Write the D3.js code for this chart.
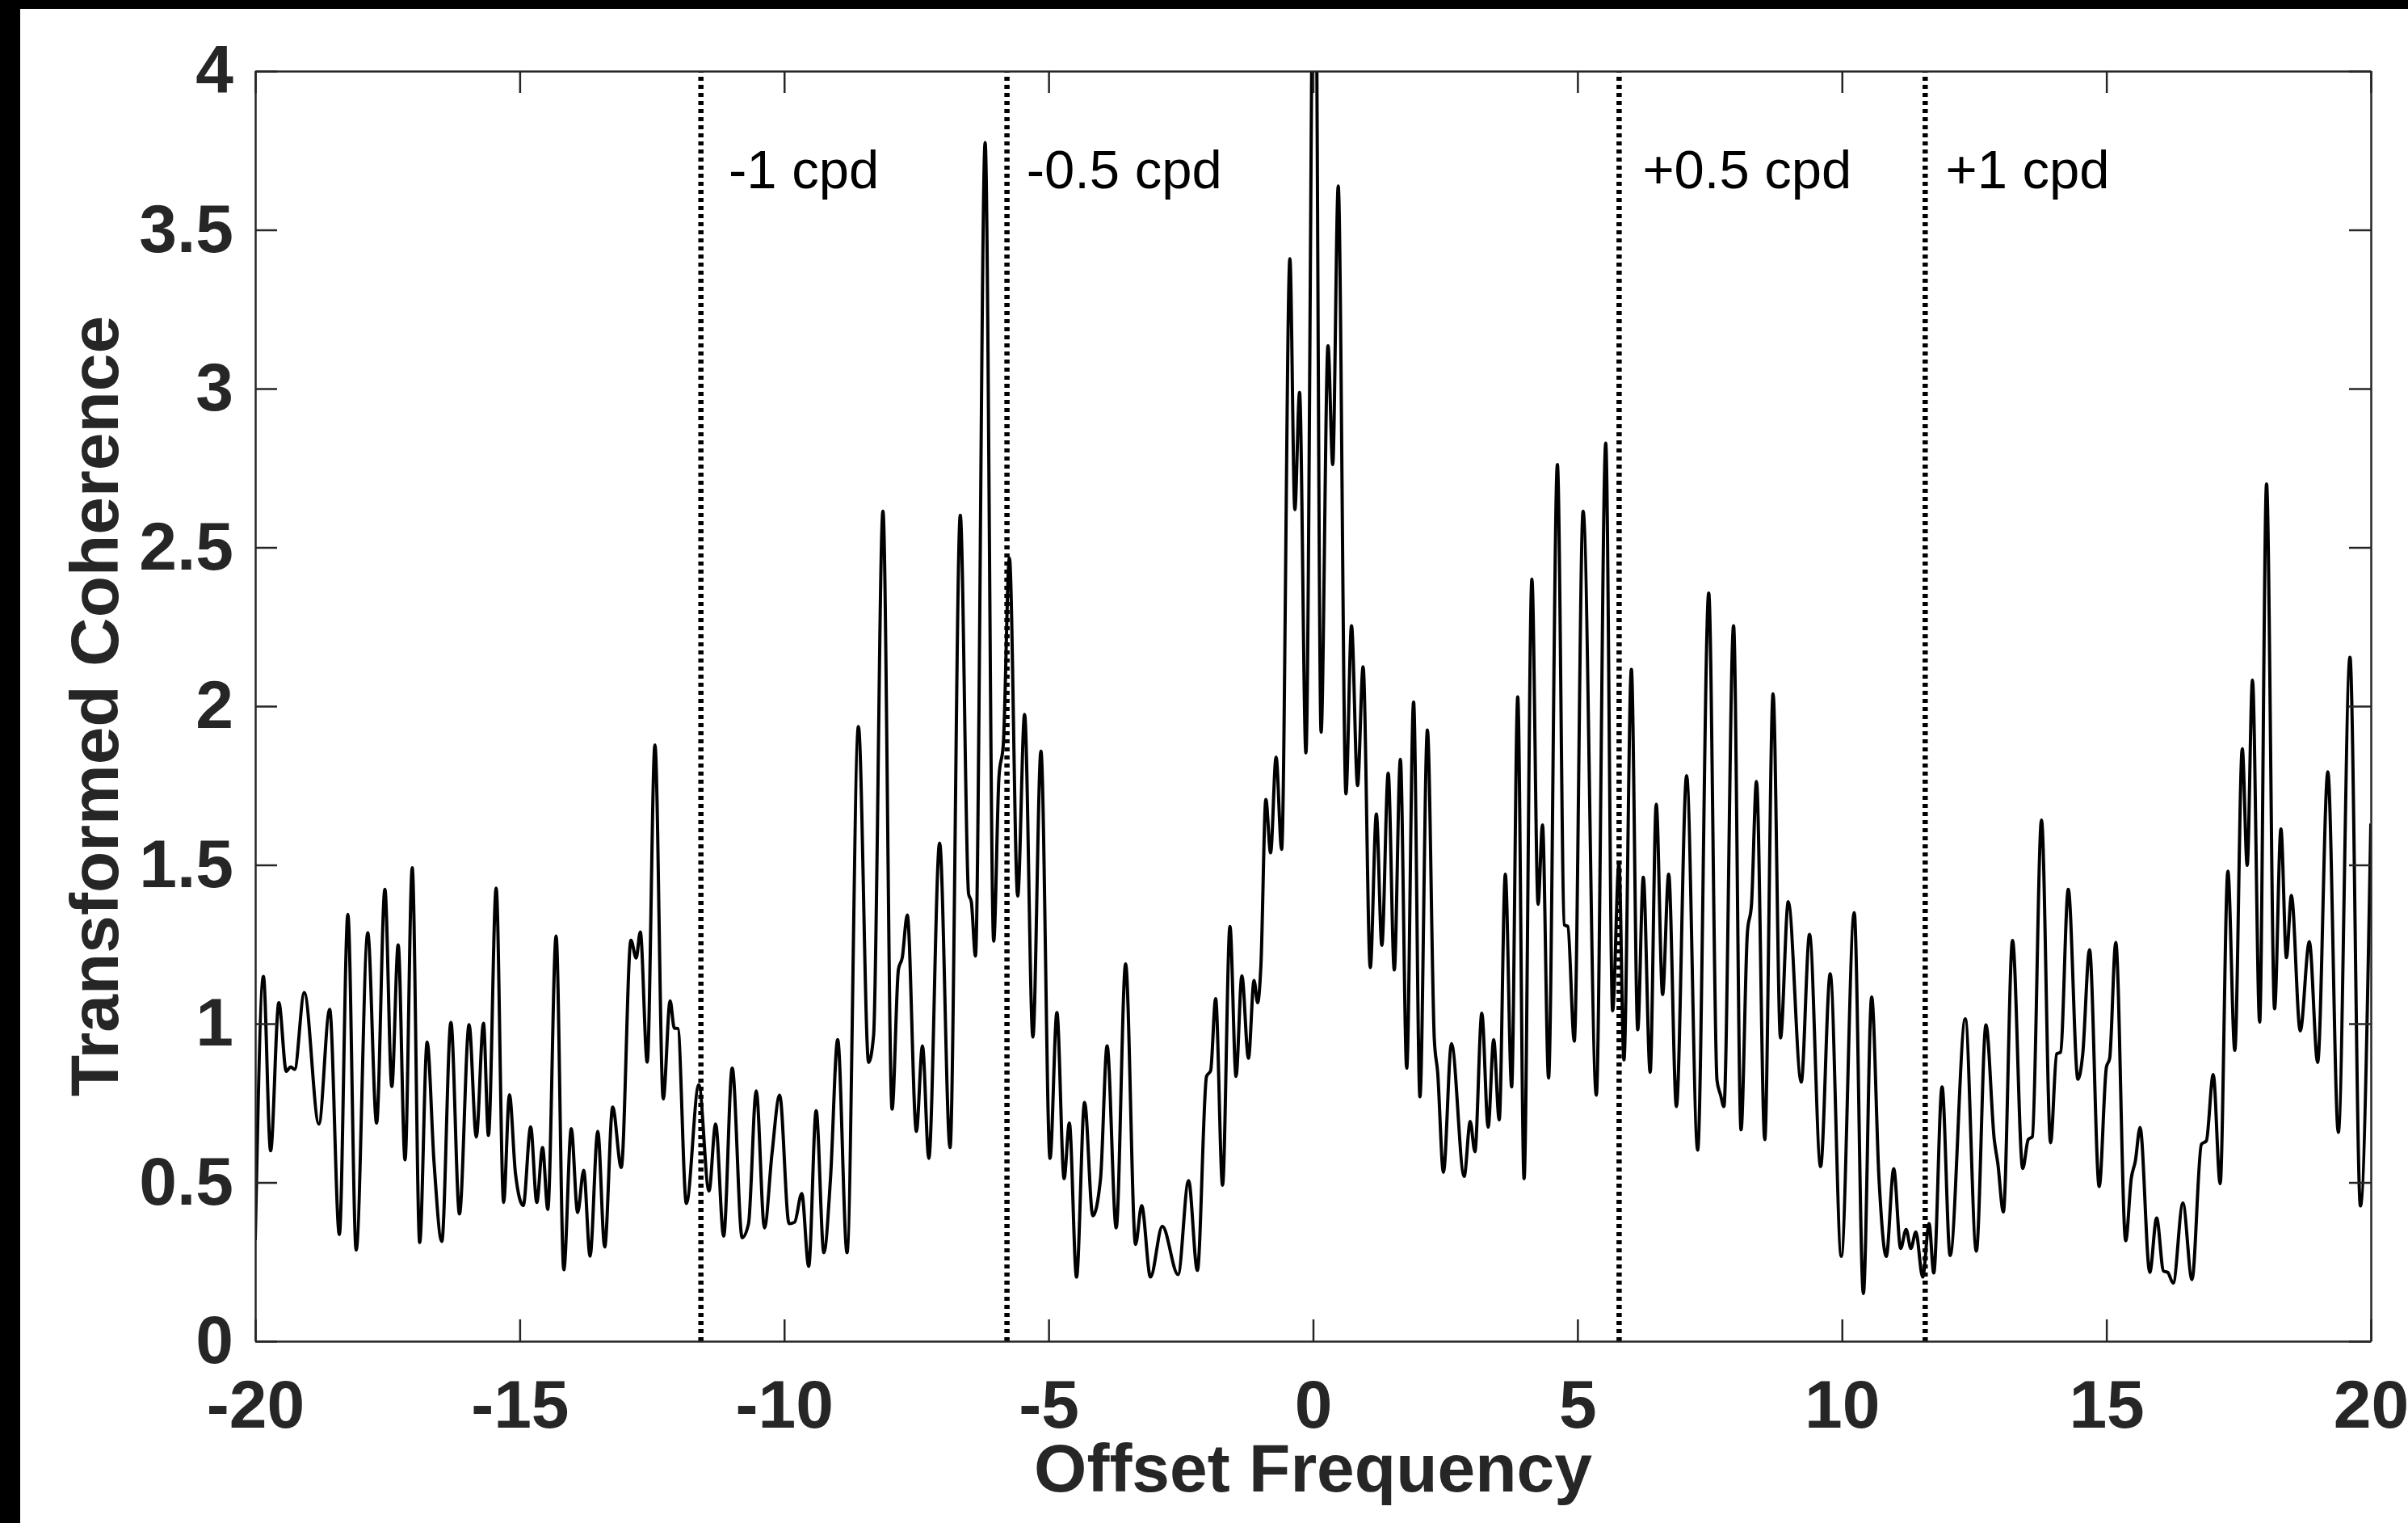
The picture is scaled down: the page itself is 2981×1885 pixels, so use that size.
<!DOCTYPE html>
<meta charset="utf-8">
<title>transformed coherence</title>
<style>
    body { margin: 0; background: #fff; }
    svg { display: block; }
    .axis path, .axis line { stroke: #262626; stroke-width: 2.5; }
    .axis text { font-family: "Liberation Sans", Arial, Helvetica, sans-serif; font-weight: bold; font-size: 84px; fill: #262626; }
</style>
<body>
<script src="https://d3js.org/d3.v7.min.js"></script>
<script>
    var width = 2981;
    var height = 1885;
    var margin = {top: 88, right: 46, bottom: 225, left: 316};

    // offset frequency (x) and transformed coherence (y)
    var freq = [-20.0, -19.846, -19.71, -19.554, -19.413, -19.33, -19.256, -19.073, -18.797, -18.593,
        -18.41, -18.249, -18.092, -17.873, -17.706, -17.549, -17.418, -17.298, -17.168, -17.032,
        -16.891, -16.75, -16.62, -16.473, -16.301, -16.139, -15.957, -15.821, -15.685, -15.591,
        -15.445, -15.304, -15.194, -15.08, -14.933, -14.793, -14.677, -14.568, -14.469, -14.312,
        -14.166, -14.025, -13.905, -13.79, -13.67, -13.524, -13.393, -13.242, -13.08, -12.897,
        -12.798, -12.72, -12.589, -12.443, -12.286, -12.156, -12.077, -12.01,
        -11.849, -11.614, -11.421, -11.296, -11.144, -10.982, -10.794, -10.674, -10.528, -10.372,
        -10.231, -10.085, -9.907, -9.802, -9.667, -9.536, -9.395, -9.249, -9.124, -8.988,
        -8.811, -8.596, -8.403, -8.309, -8.132, -7.959, -7.84, -7.767, -7.672, -7.5,
        -7.385, -7.265, -7.061, -6.863, -6.67, -6.513, -6.461, -6.383, -6.2, -6.038,
        -5.939, -5.855, -5.741, -5.584, -5.454, -5.297, -5.145, -4.973, -4.843, -4.707,
        -4.608, -4.472, -4.32, -4.164, -4.018,
        -3.894, -3.722, -3.544, -3.356, -3.241, -3.074, -2.85, -2.552, -2.354, -2.187,
        -2.014, -1.936, -1.842, -1.711, -1.571, -1.456, -1.346, -1.221, -1.116, -1.048,
        -0.986, -0.892, -0.803, -0.699, -0.594, -0.438, -0.344, -0.255, -0.135, 0.03,
        0.152, 0.283, 0.372, 0.476, 0.622, 0.727, 0.842, 0.946, 1.082, 1.197,
        1.301, 1.421, 1.536, 1.651, 1.771, 1.901, 2.021, 2.162, 2.293, 2.356,
        2.465, 2.617, 2.857, 2.972, 3.06, 3.191, 3.311, 3.415, 3.52, 3.635,
        3.755, 3.87, 3.99,
        4.138, 4.255, 4.338, 4.453, 4.62, 4.751, 4.818, 4.939, 5.106, 5.356,
        5.534, 5.664, 5.784, 5.878, 6.019, 6.139, 6.244, 6.374, 6.489, 6.609,
        6.724, 6.87, 7.063, 7.272, 7.481, 7.638, 7.706, 7.768, 7.951, 8.092,
        8.212, 8.29, 8.384, 8.541, 8.698, 8.838, 8.985, 9.23, 9.387, 9.596,
        9.778, 9.987, 10.232, 10.405, 10.562, 10.702, 10.838, 10.979, 11.11, 11.214,
        11.303, 11.397, 11.527, 11.648, 11.736, 11.893, 12.045,
        12.332, 12.541, 12.723, 12.88, 12.948, 13.052, 13.225, 13.418, 13.522, 13.6,
        13.773, 13.945, 14.06, 14.133, 14.279, 14.462, 14.551, 14.681, 14.864, 15.0,
        15.062, 15.177, 15.365, 15.47, 15.548, 15.637, 15.82, 15.95, 16.08, 16.159,
        16.263, 16.446, 16.618, 16.796, 16.89, 17.02, 17.151, 17.297, 17.428, 17.569,
        17.662, 17.762, 17.898, 18.028, 18.18, 18.3, 18.404, 18.498, 18.665, 18.837,
        18.994, 19.187, 19.385, 19.605, 19.803, 20.0];

    var coh = [0.318, 1.149, 0.60, 1.066, 0.85, 0.864, 0.856, 1.098, 0.684, 1.045,
        0.336, 1.344, 0.287, 1.286, 0.687, 1.423, 0.802, 1.248, 0.571, 1.491,
        0.311, 0.942, 0.564, 0.314, 1.004, 0.401, 0.997, 0.643, 1.001, 0.648,
        1.427, 0.437, 0.776, 0.528, 0.427, 0.675, 0.437, 0.61, 0.415, 1.276,
        0.225, 0.669, 0.405, 0.538, 0.268, 0.661, 0.297, 0.737, 0.547, 1.263,
        1.207, 1.289, 0.879, 1.878, 0.763, 1.072, 0.986, 0.985,
        0.434, 0.808, 0.473, 0.684, 0.331, 0.86, 0.326, 0.37, 0.788, 0.357,
        0.589, 0.775, 0.37, 0.375, 0.465, 0.236, 0.726, 0.279, 0.512, 0.95,
        0.279, 1.936, 0.878, 0.963, 2.614, 0.731, 1.17, 1.208, 1.342, 0.661,
        0.93, 0.576, 1.569, 0.61, 2.601, 1.409, 1.384, 1.213, 3.775, 1.26,
        1.776, 1.884, 2.467, 1.402, 1.974, 0.958, 1.858, 0.576, 1.035, 0.512,
        0.687, 0.202, 0.752, 0.395, 0.512,
        0.93, 0.357, 1.188, 0.305, 0.427, 0.202, 0.362, 0.21, 0.506, 0.223,
        0.834, 0.852, 1.079, 0.491, 1.306, 0.834, 1.151, 0.891, 1.136, 1.066,
        1.182, 1.706, 1.538, 1.84, 1.549, 3.409, 2.619, 2.988, 1.853, 4.8,
        1.918, 3.135, 2.761, 3.638, 1.724, 2.253, 1.75, 2.124, 1.177, 1.66,
        1.247, 1.789, 1.169, 1.833, 0.86, 2.013, 0.77, 1.925, 0.95, 0.847,
        0.532, 0.937, 0.519, 0.692, 0.597, 1.033, 0.674, 0.95, 0.697, 1.471,
        0.801, 2.029, 0.512,
        2.4, 1.376, 1.626, 0.829, 2.761, 1.311, 1.306, 0.945, 2.614, 0.775,
        2.828, 1.041, 1.505, 0.886, 2.116, 0.981, 1.461, 0.847, 1.691, 1.092,
        1.471, 0.739, 1.781, 0.602, 2.356, 0.821, 0.775, 0.739, 2.253, 0.666,
        1.286, 1.376, 1.763, 0.635, 2.039, 0.955, 1.384, 0.816, 1.281, 0.55,
        1.157, 0.267, 1.35, 0.15, 1.084, 0.507, 0.267, 0.543, 0.292, 0.352,
        0.292, 0.344, 0.202, 0.37, 0.215, 0.801, 0.27,
        1.015, 0.284, 0.996, 0.635, 0.559, 0.407, 1.262, 0.544, 0.635, 0.644,
        1.641, 0.625, 0.905, 0.91, 1.423, 0.825, 0.901, 1.233, 0.487, 0.863,
        0.891, 1.256, 0.316, 0.512, 0.568, 0.673, 0.217, 0.388, 0.221, 0.217,
        0.183, 0.435, 0.194, 0.62, 0.631, 0.84, 0.496, 1.48, 0.916, 1.866,
        1.499, 2.082, 1.005, 2.7, 1.047, 1.613, 1.208, 1.404, 0.977, 1.258,
        0.878, 1.793, 0.658, 2.154, 0.426, 1.63];

    var cpdLines = [-11.574, -5.787, 5.787, 11.574];
    var cpdLabels = ["-1 cpd", "-0.5 cpd", "+0.5 cpd", "+1 cpd"];
    var cpdLabelX = [-11.05, -5.42, 6.23, 11.96];
    var xTicks = [-20, -15, -10, -5, 0, 5, 10, 15, 20];
    var yTicks = [0, 0.5, 1, 1.5, 2, 2.5, 3, 3.5, 4];

    var innerW = width - margin.left - margin.right;
    var innerH = height - margin.top - margin.bottom;

    var svg = d3.select("body").append("svg")
        .attr("width", width)
        .attr("height", height);

    // black frame strips at top and left edge
    svg.append("rect").attr("x", 0).attr("y", 0).attr("width", width).attr("height", 11).attr("fill", "#000");
    svg.append("rect").attr("x", 0).attr("y", 0).attr("width", 25).attr("height", height).attr("fill", "#000");

    var g = svg.append("g")
        .attr("transform", "translate(" + margin.left + "," + margin.top + ")");

    var x = d3.scaleLinear().domain([-20, 20]).range([0, innerW]);
    var y = d3.scaleLinear().domain([0, 4]).range([innerH, 0]);

    g.append("clipPath").attr("id", "plot-clip")
        .append("rect").attr("width", innerW).attr("height", innerH);

    // dotted cpd markers
    g.append("g")
        .selectAll("line")
        .data(cpdLines)
        .enter().append("line")
        .attr("x1", d => x(d))
        .attr("x2", d => x(d))
        .attr("y1", y(0))
        .attr("y2", y(4))
        .style("stroke", "#000")
        .style("stroke-width", 6.5)
        .style("stroke-dasharray", "5,5");

    g.append("g")
        .selectAll("text")
        .data(cpdLabels)
        .enter().append("text")
        .attr("x", (d, i) => x(cpdLabelX[i]))
        .attr("y", 145)
        .style("font-family", "'Liberation Sans', Arial, Helvetica, sans-serif")
        .style("font-size", "67px")
        .style("fill", "#000")
        .text(d => d);

    var points = freq.map(function(f, i) { return [f, coh[i]]; });

    var line = d3.line()
        .x(d => x(d[0]))
        .y(d => y(d[1]))
        .curve(d3.curveMonotoneX);

    g.append("path")
        .datum(points)
        .attr("clip-path", "url(#plot-clip)")
        .attr("fill", "none")
        .attr("stroke", "#000")
        .attr("stroke-width", 4)
        .attr("stroke-linejoin", "round")
        .attr("d", line);

    // axes: box with inward ticks on all sides
    g.append("g")
        .attr("class", "axis")
        .attr("transform", "translate(0," + innerH + ")")
        .call(d3.axisBottom(x).tickValues(xTicks).tickSizeInner(-27).tickSizeOuter(0).tickPadding(47)
            .tickFormat(d => String(d)));

    g.append("g")
        .attr("class", "axis")
        .call(d3.axisTop(x).tickValues(xTicks).tickSizeInner(-27).tickSizeOuter(0).tickFormat(""));

    g.append("g")
        .attr("class", "axis")
        .call(d3.axisLeft(y).tickValues(yTicks).tickSizeInner(-27).tickSizeOuter(0).tickPadding(27)
            .tickFormat(d => String(d)));

    g.append("g")
        .attr("class", "axis")
        .attr("transform", "translate(" + innerW + ",0)")
        .call(d3.axisRight(y).tickValues(yTicks).tickSizeInner(-27).tickSizeOuter(0).tickFormat(""));

    // axis titles
    svg.append("text")
        .attr("x", margin.left + innerW / 2)
        .attr("y", 1846)
        .style("text-anchor", "middle")
        .style("font-family", "'Liberation Sans', Arial, Helvetica, sans-serif")
        .style("font-weight", "bold")
        .style("font-size", "84px")
        .style("fill", "#262626")
        .text("Offset Frequency");

    svg.append("text")
        .attr("transform", "translate(146," + (margin.top + innerH / 2) + ") rotate(-90)")
        .style("text-anchor", "middle")
        .style("font-family", "'Liberation Sans', Arial, Helvetica, sans-serif")
        .style("font-weight", "bold")
        .style("font-size", "84px")
        .style("fill", "#262626")
        .text("Transformed Coherence");
</script>
</body>
